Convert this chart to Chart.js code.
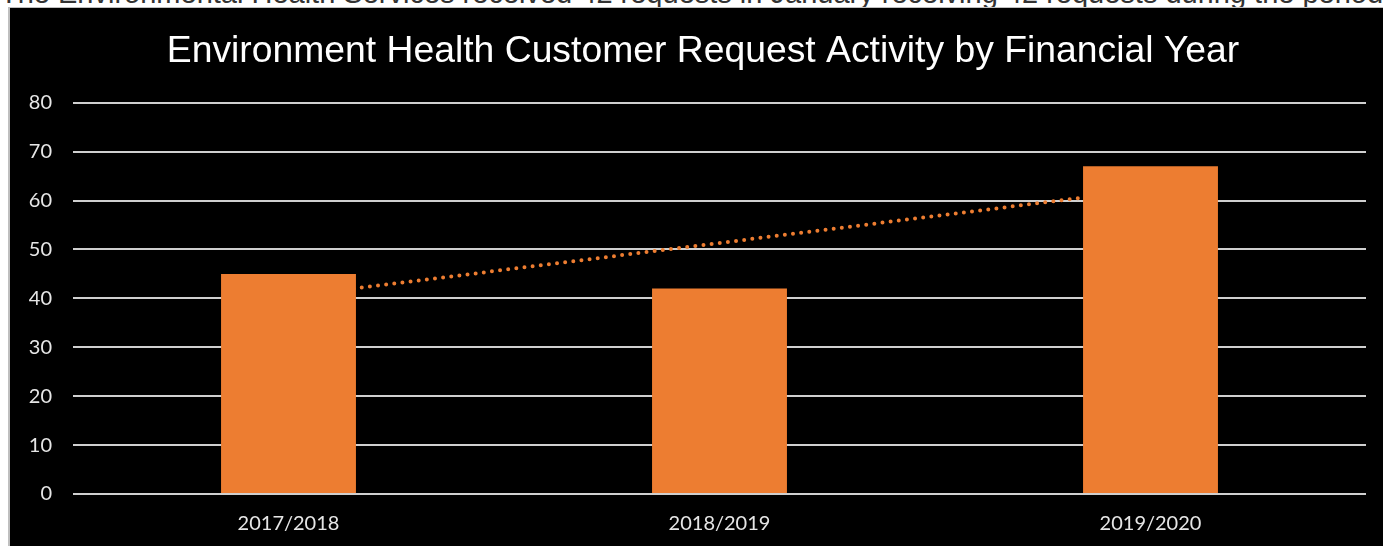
<!DOCTYPE html>
<html>
<head>
<meta charset="utf-8">
<script src="https://cdn.jsdelivr.net/npm/chart.js@4.4.1/dist/chart.umd.min.js"></script>
<style>
    html, body { margin: 0; padding: 0; background: #fff; width: 1383px; height: 546px; overflow: hidden; }
    .intro {
        position: absolute; left: 0; top: -23px; white-space: nowrap;
        font-family: "Liberation Sans", Arial, sans-serif; font-size: 29px; color: #333;
    }
    .panel {
        position: absolute; left: 8px; top: 7px; right: 0; bottom: 0;
        background: #000; border-left: 2px solid #bfbfbf; border-top: 1px solid #bfbfbf;
    }
    .panel canvas { display: block; }
</style>
</head>
<body>
<div class="intro">The Environmental Health Services received 42 requests in January receiving 42 requests during the period</div>
<div class="panel"><canvas id="requestsChart" width="1373" height="538"></canvas></div>
<script>
const years = ['2017/2018', '2018/2019', '2019/2020'];
const requests = [45, 42, 67];
const yTicks = [0, 10, 20, 30, 40, 50, 60, 70, 80];

// linear trendline over the yearly totals
function linearTrend(values) {
    const n = values.length;
    const xs = values.map((_, i) => i + 1);
    const mx = xs.reduce((a, b) => a + b, 0) / n;
    const my = values.reduce((a, b) => a + b, 0) / n;
    let num = 0, den = 0;
    xs.forEach((x, i) => { num += (x - mx) * (values[i] - my); den += (x - mx) * (x - mx); });
    const slope = num / den;
    return xs.map(x => my + slope * (x - mx));
}

// nudge the title block right so it sits a little off the canvas centre
const titleShift = {
    id: 'titleShift',
    afterLayout(chart) {
        const t = chart.titleBlock;
        if (t) { t.left += 15; t.right += 15; }
    }
};

const tickFont = { family: 'Lato, "Open Sans", sans-serif', size: 20 };

const ctx = document.getElementById('requestsChart').getContext('2d');
new Chart(ctx, {
    data: {
        labels: years,
        datasets: [
            {
                type: 'bar',
                label: 'Requests',
                data: requests,
                backgroundColor: '#ED7D31',
                categoryPercentage: 1,
                barPercentage: 0.313,
                order: 1
            },
            {
                type: 'line',
                label: 'Linear (Requests)',
                data: linearTrend(requests),
                borderColor: '#ED7D31',
                borderWidth: 4,
                borderDash: [0, 8.2],
                borderCapStyle: 'round',
                pointRadius: 0,
                fill: false,
                order: 2
            }
        ]
    },
    plugins: [titleShift],
    options: {
        responsive: false,
        animation: false,
        layout: { padding: { left: 0, right: 17, top: 0, bottom: 0 } },
        plugins: {
            legend: { display: false },
            tooltip: { enabled: false },
            title: {
                display: true,
                text: 'Environment Health Customer Request Activity by Financial Year',
                color: '#ffffff',
                font: { family: '"Liberation Sans", Arial, sans-serif', size: 37.3, weight: 'normal' },
                padding: { top: 21, bottom: 29 }
            }
        },
        scales: {
            x: {
                grid: { display: false },
                border: { display: false },
                ticks: { color: '#e6e6e6', font: tickFont, padding: 10 }
            },
            y: {
                min: yTicks[0],
                max: yTicks[yTicks.length - 1],
                afterBuildTicks: axis => { axis.ticks = yTicks.map(v => ({ value: v })); },
                afterFit: axis => { axis.width = 63; },
                grid: { color: '#cfcfcf', lineWidth: 2, drawTicks: false },
                border: { display: false },
                ticks: { color: '#e6e6e6', font: tickFont, padding: 21 }
            }
        }
    }
});
</script>
</body>
</html>
